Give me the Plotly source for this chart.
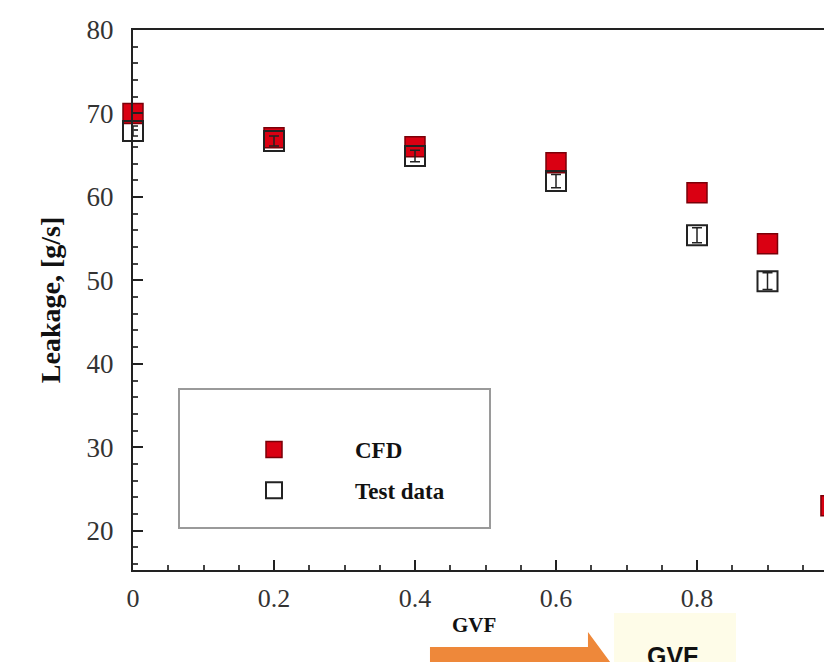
import plotly.graph_objects as go

# Leakage versus gas volume fraction
gvf_cfd = [0.0, 0.2, 0.4, 0.6, 0.8, 0.9, 0.99]
leak_cfd = [70.0, 67.1, 66.0, 64.1, 60.5, 54.4, 23.0]

gvf_test = [0.0, 0.2, 0.4, 0.6, 0.8, 0.9]
leak_test = [67.9, 66.7, 64.9, 61.9, 55.4, 49.9]
leak_test_err = [0.6, 0.6, 0.7, 0.8, 0.9, 1.0]

y_ticks = [20, 30, 40, 50, 60, 70, 80]
x_ticks = [0, 0.2, 0.4, 0.6, 0.8]
x_tick_text = ["0", "0.2", "0.4", "0.6", "0.8"]

# The frame runs on past the right edge of the page
W, H = 845, 662
L, R, T, B = 133, 0, 30, 92
PW, PH = W - L - R, H - T - B
X_MAX = PW / 705.0


def px(x):
    return (x - L) / PW


def py(y):
    return (H - B - y) / PH


SERIF = "Liberation Serif"

fig = go.Figure()

fig.add_trace(go.Scatter(
    x=gvf_cfd, y=leak_cfd, mode="markers", name="CFD",
    legendgroup="a",
    marker=dict(symbol="square", size=20, color="#DA0012",
                line=dict(color="#7A0008", width=1.5)),
    cliponaxis=False,
))

fig.add_trace(go.Scatter(
    x=gvf_test, y=leak_test, mode="markers", name="Test data",
    legendgroup="b",
    marker=dict(symbol="square-open", size=20, color="#222222",
                line=dict(width=2)),
    error_y=dict(type="data", array=leak_test_err, color="#222222",
                 thickness=1.5, width=5),
    cliponaxis=False,
))

fig.update_layout(
    width=W, height=H,
    margin=dict(l=L, r=R, t=T, b=B),
    paper_bgcolor="white", plot_bgcolor="white",
    font=dict(family=SERIF, color="#222222"),
    showlegend=True,
    legend=dict(
        x=px(193), y=py(428), xanchor="left", yanchor="top",
        bgcolor="rgba(0,0,0,0)", borderwidth=0,
        font=dict(family=SERIF, size=23, color="#111111", weight="bold"),
        itemwidth=152, traceorder="grouped", tracegroupgap=8,
    ),
    xaxis=dict(
        range=[0, X_MAX], tickvals=x_ticks, ticktext=x_tick_text,
        ticks="inside", ticklen=10, tickwidth=2, tickcolor="#222222",
        minor=dict(dtick=0.05, ticks="inside", ticklen=5,
                   tickwidth=1.5, tickcolor="#444444"),
        showline=True, linecolor="#222222", linewidth=2, mirror=True,
        showgrid=False, zeroline=False,
        tickfont=dict(family=SERIF, size=26, color="#333333"),
        ticklabelstandoff=4,
    ),
    yaxis=dict(
        range=[15.3, 80], tickvals=y_ticks,
        ticks="inside", ticklen=10, tickwidth=2, tickcolor="#222222",
        minor=dict(dtick=2, ticks="inside", ticklen=5,
                   tickwidth=1.5, tickcolor="#444444"),
        showline=True, linecolor="#222222", linewidth=2,
        showgrid=False, zeroline=False,
        tickfont=dict(family=SERIF, size=27, color="#333333"),
        ticklabelstandoff=12,
        title=dict(text="Leakage, [g/s]", standoff=18,
                   font=dict(family=SERIF, size=28, color="#111111",
                             weight="bold")),
    ),
)

# x-axis label, centred on the visible part of the frame
fig.add_annotation(xref="paper", yref="paper", x=px(474), y=py(625),
                   text="<b>GVF</b>", showarrow=False,
                   xanchor="center", yanchor="middle",
                   font=dict(family=SERIF, size=21, color="#111111"))

# Legend frame
fig.add_shape(type="rect", xref="paper", yref="paper",
              x0=px(179), x1=px(490), y0=py(528), y1=py(389),
              line=dict(color="#9A9A9A", width=2), fillcolor="white",
              layer="below")

# Direction-of-increase arrow beneath the axis
arrow = [(430, 647), (588, 647), (588, 632), (616, 670),
         (588, 708), (588, 693), (430, 693)]
path = "M " + " L ".join(f"{px(a):.4f},{py(b):.4f}" for a, b in arrow) + " Z"
fig.add_shape(type="path", xref="paper", yref="paper", path=path,
              fillcolor="#EE883A", line=dict(width=0))

# Label tag next to the arrow head
fig.add_shape(type="rect", xref="paper", yref="paper",
              x0=px(614), x1=px(736), y0=py(700), y1=py(613),
              fillcolor="#FEFCE8", line=dict(width=0), layer="below")
fig.add_annotation(xref="paper", yref="paper", x=px(672), y=py(656),
                   text="<b>GVF</b>", showarrow=False,
                   xanchor="center", yanchor="middle",
                   font=dict(family="Liberation Sans", size=25,
                             color="#111111"))

fig.write_html("out.html")
